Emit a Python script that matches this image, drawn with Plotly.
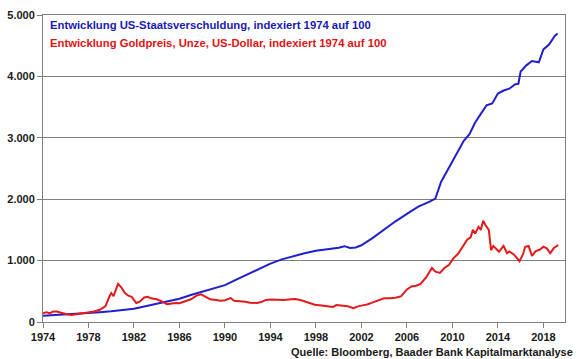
import plotly.graph_objects as go

# US debt index (1974 = 100)
debt_years = [1974.0, 1975.0, 1976.0, 1977.0, 1978.0, 1979.0, 1980.0, 1981.0, 1982.0, 1983.0,
              1984.0, 1985.0, 1986.0, 1987.0, 1988.0, 1989.0, 1990.0, 1991.0, 1992.0, 1993.0,
              1994.0, 1995.0, 1996.0, 1997.0, 1998.0, 1999.0, 2000.0, 2000.5, 2001.0, 2001.5,
              2002.0, 2003.0, 2004.0, 2005.0, 2006.0, 2007.0, 2008.0, 2008.5, 2009.0, 2009.5,
              2010.0, 2010.5, 2011.0, 2011.5, 2012.0, 2012.5, 2013.0, 2013.5, 2014.0, 2014.5,
              2015.0, 2015.5, 2015.8, 2016.0, 2016.5, 2017.0, 2017.6, 2018.0, 2018.5, 2019.0,
              2019.25]
debt_values = [100, 110, 125, 135, 145, 160, 175, 190, 215, 255,
               300, 340, 380, 440, 490, 540, 600, 690, 780, 870,
               950, 1020, 1075, 1120, 1160, 1185, 1210, 1235, 1205, 1215,
               1250, 1370, 1510, 1640, 1760, 1880, 1960, 2010, 2280, 2450,
               2600, 2780, 2950, 3060, 3250, 3390, 3530, 3560, 3720, 3770,
               3800, 3870, 3880, 4080, 4180, 4250, 4230, 4440, 4520, 4660,
               4700]

# Gold price index (1974 = 100)
gold_years = [1974.0, 1974.3, 1974.6, 1974.9, 1975.2, 1975.6, 1976.0, 1976.5, 1977.0, 1977.5,
              1978.0, 1978.5, 1979.0, 1979.5, 1979.8, 1980.0, 1980.2, 1980.6, 1980.9, 1981.2,
              1981.5, 1981.8, 1982.2, 1982.5, 1982.9, 1983.2, 1983.5, 1984.0, 1984.5, 1984.9,
              1985.3, 1985.7, 1986.0, 1986.5, 1987.0, 1987.5, 1987.9, 1988.3, 1988.7, 1989.2,
              1989.6, 1990.0, 1990.5, 1990.8, 1991.3, 1991.8, 1992.2, 1992.8, 1993.2, 1993.6,
              1994.0, 1994.6, 1995.2, 1995.8, 1996.2, 1996.7, 1997.2, 1997.9, 1998.5, 1999.0,
              1999.5, 1999.8, 2000.3, 2000.8, 2001.3, 2001.7, 2002.2, 2002.5, 2003.0, 2003.6,
              2004.0, 2004.5, 2005.0, 2005.5, 2006.0, 2006.4, 2006.8, 2007.2, 2007.7, 2008.2,
              2008.5, 2008.9, 2009.3, 2009.7, 2010.1, 2010.5, 2010.9, 2011.3, 2011.6, 2011.8,
              2012.0, 2012.3, 2012.5, 2012.7, 2012.9, 2013.2, 2013.4, 2013.6, 2013.8, 2014.1,
              2014.5, 2014.8, 2015.0, 2015.4, 2015.9, 2016.2, 2016.4, 2016.7, 2017.0, 2017.3,
              2017.7, 2018.0, 2018.3, 2018.6, 2018.9, 2019.3]
gold_values = [140, 160, 145, 170, 170, 145, 130, 115, 130, 135,
               155, 170, 200, 260, 400, 470, 420, 620, 560, 470,
               430, 410, 310, 330, 400, 410, 385, 370, 330, 290,
               300, 310, 305, 340, 370, 430, 450, 410, 370, 360,
               345, 355, 390, 345, 340, 330, 315, 310, 325, 360,
               365, 360, 360, 370, 375, 355, 320, 280, 270, 260,
               245, 275, 265, 255, 225, 255, 275, 285, 320, 355,
               385, 385, 395, 420, 530, 580, 590, 620, 730, 880,
               820, 800, 880, 930, 1040, 1110, 1220, 1340, 1380, 1500,
               1440, 1550, 1500, 1650, 1580, 1500, 1170, 1240, 1200, 1145,
               1240, 1120, 1150, 1100, 990, 1100, 1226, 1240, 1075, 1150,
               1180, 1226, 1200, 1120, 1200, 1255]

x_tickvals = [1974, 1978, 1982, 1986, 1990, 1994, 1998, 2002, 2006, 2010, 2014, 2018]
x_ticktext = [str(v) for v in x_tickvals]
y_tickvals = [0, 1000, 2000, 3000, 4000, 5000]
y_ticktext = ["0", "1.000", "2.000", "3.000", "4.000", "5.000"]

label_debt = "Entwicklung US-Staatsverschuldung, indexiert 1974 auf 100"
label_gold = "Entwicklung Goldpreis, Unze, US-Dollar, indexiert 1974 auf 100"
source_text = "Quelle: Bloomberg, Baader Bank Kapitalmarktanalyse"

BLUE = "#1f1fcc"
RED = "#e31a1c"
FONT = "Liberation Sans, Arial, sans-serif"

fig = go.Figure()
fig.add_trace(go.Scatter(x=debt_years, y=debt_values, mode="lines",
                         line=dict(color=BLUE, width=2), name=label_debt))
fig.add_trace(go.Scatter(x=gold_years, y=gold_values, mode="lines",
                         line=dict(color=RED, width=2), name=label_gold))

fig.update_layout(
    width=580, height=359,
    margin=dict(l=43, r=15, t=15, b=37),
    paper_bgcolor="white", plot_bgcolor="white",
    showlegend=False,
    font=dict(family=FONT, size=11, color="#1a1a1a"),
    xaxis=dict(range=[1974, 2019.9], tickvals=x_tickvals, ticktext=x_ticktext,
               showgrid=False, showline=True, linecolor="#7f7f7f", linewidth=1,
               mirror=True, ticks="outside", ticklen=5, tickcolor="#7f7f7f",
               tickfont=dict(family=FONT, size=11, color="#1a1a1a", weight="bold"),
               zeroline=False, automargin=False),
    yaxis=dict(range=[0, 5000], tickvals=y_tickvals, ticktext=y_ticktext,
               showgrid=True, gridcolor="#7f7f7f", gridwidth=1,
               showline=True, linecolor="#7f7f7f", linewidth=1, mirror=True,
               ticks="outside", ticklen=5, tickcolor="#7f7f7f",
               tickfont=dict(family=FONT, size=11, color="#1a1a1a", weight="bold"),
               zeroline=False, automargin=False),
    annotations=[
        dict(text=label_debt, xref="paper", yref="paper", x=0.0096, y=0.967,
             xanchor="left", yanchor="middle", showarrow=False,
             font=dict(family=FONT, size=11.3, color="#1a1ab4", weight="bold")),
        dict(text=label_gold, xref="paper", yref="paper", x=0.0096, y=0.909,
             xanchor="left", yanchor="middle", showarrow=False,
             font=dict(family=FONT, size=11.3, color="#dc1414", weight="bold")),
        dict(text=source_text, xref="paper", yref="paper", x=1.019, y=-0.098,
             xanchor="right", yanchor="middle", showarrow=False,
             font=dict(family=FONT, size=11, color="#1a1a1a", weight="bold")),
    ],
)

fig.write_html("out.html", config={"displayModeBar": False},
               post_script="document.body.style.margin='0';document.body.style.overflow='hidden';")
